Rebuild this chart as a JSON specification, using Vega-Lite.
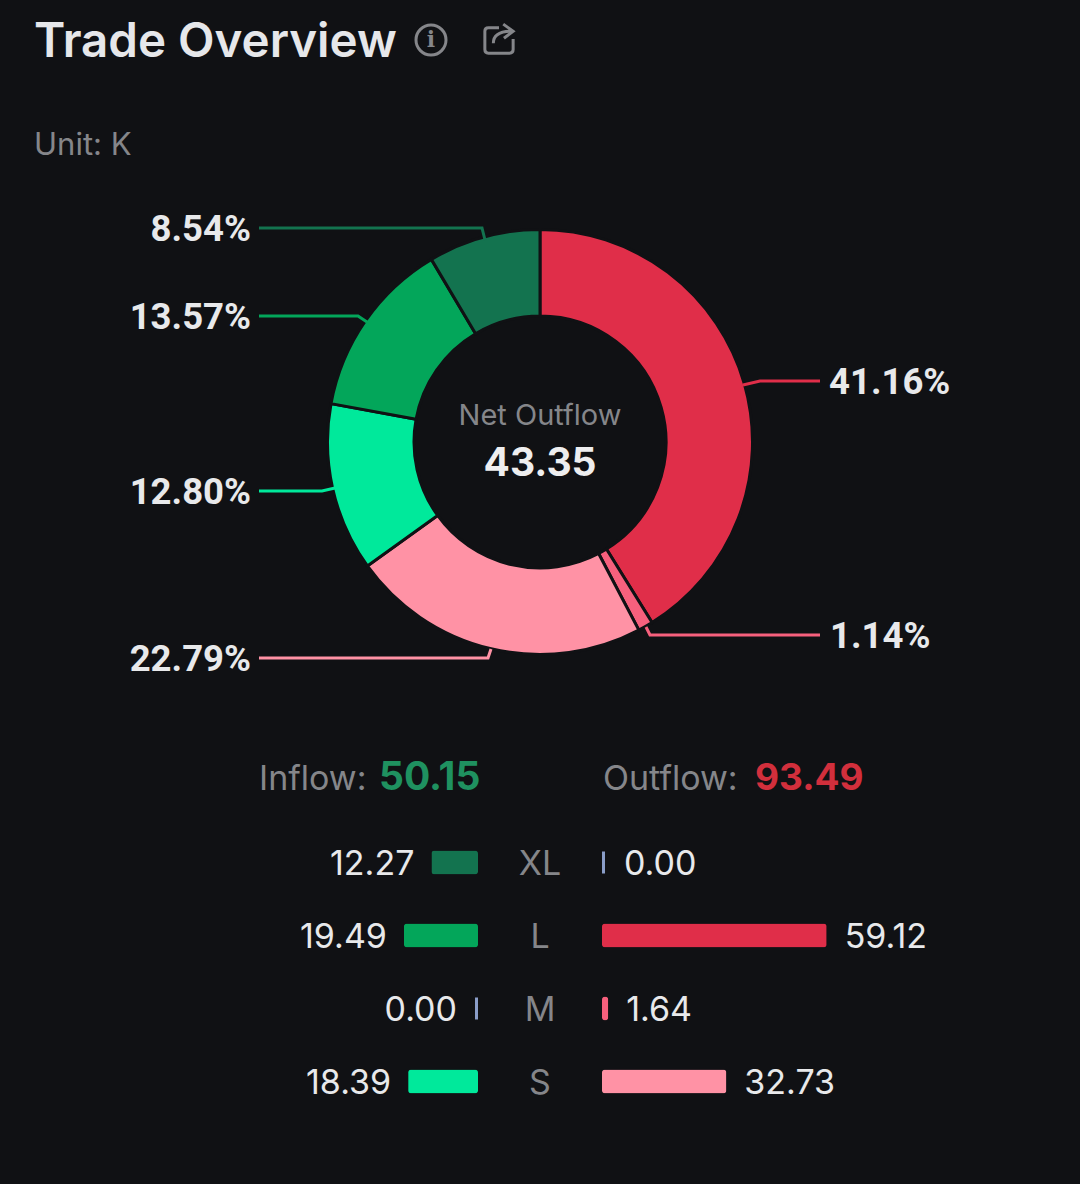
{"$schema":"https://vega.github.io/schema/vega-lite/v6.json","background":"#101114","padding":0,"spacing":0,"config":{"view":{"stroke":null},"axis":{"disable":true},"font":"Inter","concat":{"spacing":0}},"datasets":{"slices":[{"segment":"out L","share":41.16,"rank":1,"label":"41.16%"},{"segment":"out M","share":1.14,"rank":2,"label":"1.14%"},{"segment":"out S","share":22.79,"rank":3,"label":"22.79%"},{"segment":"in S","share":12.8,"rank":4,"label":"12.80%"},{"segment":"in L","share":13.57,"rank":5,"label":"13.57%"},{"segment":"in XL","share":8.54,"rank":6,"label":"8.54%"}],"callouts":[{"segment":"in XL","step":1,"cx":-281,"cy":214},{"segment":"in XL","step":2,"cx":-58,"cy":214},{"segment":"in XL","step":3,"cx":-55,"cy":202},{"segment":"in L","step":1,"cx":-281,"cy":126},{"segment":"in L","step":2,"cx":-182,"cy":126},{"segment":"in L","step":3,"cx":-173,"cy":120},{"segment":"in S","step":1,"cx":-281,"cy":-49},{"segment":"in S","step":2,"cx":-218,"cy":-49},{"segment":"in S","step":3,"cx":-205,"cy":-46},{"segment":"out S","step":1,"cx":-281,"cy":-216},{"segment":"out S","step":2,"cx":-52,"cy":-216},{"segment":"out S","step":3,"cx":-49,"cy":-207},{"segment":"out L","step":1,"cx":280,"cy":61},{"segment":"out L","step":2,"cx":220,"cy":61},{"segment":"out L","step":3,"cx":203,"cy":57},{"segment":"out M","step":1,"cx":280,"cy":-193},{"segment":"out M","step":2,"cx":110,"cy":-193},{"segment":"out M","step":3,"cx":106,"cy":-185}],"inflow":[{"size":"XL","segment":"in XL","value":12.27},{"size":"L","segment":"in L","value":19.49},{"size":"M","segment":"in M","value":0},{"size":"S","segment":"in S","value":18.39}],"outflow":[{"size":"XL","segment":"out XL","value":0},{"size":"L","segment":"out L","value":59.12},{"size":"M","segment":"out M","value":1.64},{"size":"S","segment":"out S","value":32.73}]},"vconcat":[{"width":1080,"height":826,"layer":[{"data":{"name":"slices"},"mark":{"type":"arc","outerRadius":212.5,"innerRadius":126,"stroke":"#101114","strokeWidth":3},"encoding":{"x":{"datum":0,"type":"quantitative","scale":{"domain":[-540,540]}},"y":{"datum":0,"type":"quantitative","scale":{"domain":[-384,442]}},"theta":{"field":"share","type":"quantitative","stack":true,"scale":{"domain":[0,100]}},"order":{"field":"rank"},"color":{"field":"segment","scale":{"domain":["in XL","in L","in S","out L","out M","out S"],"range":["#13734f","#03a65a","#00e99b","#e02e49","#f7607d","#ff92a5"]},"legend":null}}},{"data":{"name":"callouts"},"mark":{"type":"line","strokeWidth":3,"interpolate":"linear"},"encoding":{"x":{"field":"cx","type":"quantitative","scale":{"domain":[-540,540]}},"y":{"field":"cy","type":"quantitative","scale":{"domain":[-384,442]}},"detail":{"field":"segment"},"order":{"field":"step"},"color":{"field":"segment","legend":null}}},{"data":{"name":"slices"},"transform":[{"filter":"datum.rank==6"}],"mark":{"type":"text","font":"Roboto","fontWeight":700,"fontSize":36.5,"align":"right","baseline":"middle","dy":2,"fill":"#e8e9eb"},"encoding":{"text":{"field":"label"},"x":{"datum":-289,"type":"quantitative","scale":{"domain":[-540,540]}},"y":{"datum":214,"type":"quantitative","scale":{"domain":[-384,442]}}}},{"data":{"name":"slices"},"transform":[{"filter":"datum.rank==5"}],"mark":{"type":"text","font":"Roboto","fontWeight":700,"fontSize":36.5,"align":"right","baseline":"middle","dy":2,"fill":"#e8e9eb"},"encoding":{"text":{"field":"label"},"x":{"datum":-289,"type":"quantitative","scale":{"domain":[-540,540]}},"y":{"datum":126,"type":"quantitative","scale":{"domain":[-384,442]}}}},{"data":{"name":"slices"},"transform":[{"filter":"datum.rank==4"}],"mark":{"type":"text","font":"Roboto","fontWeight":700,"fontSize":36.5,"align":"right","baseline":"middle","dy":2,"fill":"#e8e9eb"},"encoding":{"text":{"field":"label"},"x":{"datum":-289,"type":"quantitative","scale":{"domain":[-540,540]}},"y":{"datum":-49,"type":"quantitative","scale":{"domain":[-384,442]}}}},{"data":{"name":"slices"},"transform":[{"filter":"datum.rank==3"}],"mark":{"type":"text","font":"Roboto","fontWeight":700,"fontSize":36.5,"align":"right","baseline":"middle","dy":2,"fill":"#e8e9eb"},"encoding":{"text":{"field":"label"},"x":{"datum":-289,"type":"quantitative","scale":{"domain":[-540,540]}},"y":{"datum":-216,"type":"quantitative","scale":{"domain":[-384,442]}}}},{"data":{"name":"slices"},"transform":[{"filter":"datum.rank==1"}],"mark":{"type":"text","font":"Roboto","fontWeight":700,"fontSize":36.5,"align":"left","baseline":"middle","dy":2,"fill":"#e8e9eb"},"encoding":{"text":{"field":"label"},"x":{"datum":289,"type":"quantitative","scale":{"domain":[-540,540]}},"y":{"datum":61,"type":"quantitative","scale":{"domain":[-384,442]}}}},{"data":{"name":"slices"},"transform":[{"filter":"datum.rank==2"}],"mark":{"type":"text","font":"Roboto","fontWeight":700,"fontSize":36.5,"align":"left","baseline":"middle","dy":2,"fill":"#e8e9eb"},"encoding":{"text":{"field":"label"},"x":{"datum":290,"type":"quantitative","scale":{"domain":[-540,540]}},"y":{"datum":-193,"type":"quantitative","scale":{"domain":[-384,442]}}}},{"data":{"values":[{"label":"Trade Overview"}]},"mark":{"type":"text","fontSize":47.5,"fontWeight":600,"align":"left","baseline":"alphabetic","fill":"#e6e7ea"},"encoding":{"text":{"field":"label"},"x":{"datum":-506,"type":"quantitative","scale":{"domain":[-540,540]}},"y":{"datum":385,"type":"quantitative","scale":{"domain":[-384,442]}}}},{"data":{"values":[{"label":"Unit: K"}]},"mark":{"type":"text","fontSize":31,"align":"left","baseline":"alphabetic","fill":"#85868a"},"encoding":{"text":{"field":"label"},"x":{"datum":-506,"type":"quantitative","scale":{"domain":[-540,540]}},"y":{"datum":287,"type":"quantitative","scale":{"domain":[-384,442]}}}},{"data":{"values":[{"label":"Net Outflow"}]},"mark":{"type":"text","fontSize":29,"align":"center","baseline":"middle","fill":"#85868a"},"encoding":{"text":{"field":"label"},"x":{"datum":0,"type":"quantitative","scale":{"domain":[-540,540]}},"y":{"datum":26,"type":"quantitative","scale":{"domain":[-384,442]}}}},{"data":{"values":[{"label":"43.35"}]},"mark":{"type":"text","fontSize":39,"fontWeight":700,"align":"center","baseline":"middle","fill":"#eeeeef"},"encoding":{"text":{"field":"label"},"x":{"datum":0,"type":"quantitative","scale":{"domain":[-540,540]}},"y":{"datum":-22,"type":"quantitative","scale":{"domain":[-384,442]}}}},{"data":{"values":[{"label":"Inflow:"}]},"mark":{"type":"text","fontSize":34,"align":"left","baseline":"alphabetic","fill":"#85868a"},"encoding":{"text":{"field":"label"},"x":{"datum":-281,"type":"quantitative","scale":{"domain":[-540,540]}},"y":{"datum":-348,"type":"quantitative","scale":{"domain":[-384,442]}}}},{"data":{"values":[{"label":"50.15"}]},"mark":{"type":"text","fontSize":39,"fontWeight":700,"align":"left","baseline":"alphabetic","fill":"#1f9160"},"encoding":{"text":{"field":"label"},"x":{"datum":-161,"type":"quantitative","scale":{"domain":[-540,540]}},"y":{"datum":-348,"type":"quantitative","scale":{"domain":[-384,442]}}}},{"data":{"values":[{"label":"Outflow:"}]},"mark":{"type":"text","fontSize":34,"align":"left","baseline":"alphabetic","fill":"#85868a"},"encoding":{"text":{"field":"label"},"x":{"datum":63,"type":"quantitative","scale":{"domain":[-540,540]}},"y":{"datum":-348,"type":"quantitative","scale":{"domain":[-384,442]}}}},{"data":{"values":[{"label":"93.49"}]},"mark":{"type":"text","fontSize":37,"fontWeight":700,"align":"left","baseline":"alphabetic","fill":"#d22f3c"},"encoding":{"text":{"field":"label"},"x":{"datum":215,"type":"quantitative","scale":{"domain":[-540,540]}},"y":{"datum":-348,"type":"quantitative","scale":{"domain":[-384,442]}}}},{"data":{"values":[{"label":"info"}]},"mark":{"type":"point","shape":"circle","size":900,"filled":false,"stroke":"#85868a","strokeWidth":3,"opacity":1},"encoding":{"x":{"datum":-109,"type":"quantitative","scale":{"domain":[-540,540]}},"y":{"datum":402,"type":"quantitative","scale":{"domain":[-384,442]}}}},{"data":{"values":[{"label":"i"}]},"mark":{"type":"text","font":"DejaVu Serif","fontSize":22,"fontWeight":700,"align":"center","baseline":"middle","fill":"#85868a"},"encoding":{"text":{"field":"label"},"x":{"datum":-109,"type":"quantitative","scale":{"domain":[-540,540]}},"y":{"datum":402,"type":"quantitative","scale":{"domain":[-384,442]}}}},{"data":{"values":[{"label":"share"}]},"mark":{"type":"point","shape":"M0 -0.8 L-0.75 -0.8 Q-1 -0.8 -1 -0.55 L-1 0.75 Q-1 1 -0.75 1 L0.75 1 Q1 1 1 0.75 L1 0 M-0.4 0.3 Q-0.4 -0.55 0.9 -0.55 M0.3 -1.05 L1 -0.55 L0.35 -0.05","size":800,"filled":false,"stroke":"#85868a","strokeWidth":3,"opacity":1},"encoding":{"x":{"datum":-41,"type":"quantitative","scale":{"domain":[-540,540]}},"y":{"datum":403,"type":"quantitative","scale":{"domain":[-384,442]}}}}]},{"spacing":0,"hconcat":[{"width":478,"height":358,"data":{"name":"inflow"},"encoding":{"y":{"field":"size","type":"nominal","sort":["XL","L","M","S"],"scale":{"type":"band","domain":["XL","L","M","S"],"paddingInner":0,"paddingOuter":0.452,"align":0}}},"layer":[{"transform":[{"filter":"datum.value>0"}],"mark":{"type":"bar","height":24,"cornerRadius":3},"encoding":{"x":{"field":"value","type":"quantitative","scale":{"domain":[0,125.8],"reverse":true}},"color":{"field":"segment","legend":null}}},{"transform":[{"filter":"datum.value==0"}],"mark":{"type":"tick","size":22,"thickness":3,"xOffset":-1.5,"color":"#8a9dc8","opacity":1},"encoding":{"x":{"field":"value","type":"quantitative","scale":{"domain":[0,125.8],"reverse":true}}}},{"transform":[{"filter":"datum.value>0"}],"mark":{"type":"text","fontSize":34,"align":"right","baseline":"middle","dx":-17,"dy":2,"fill":"#e8e9eb"},"encoding":{"x":{"field":"value","type":"quantitative","scale":{"domain":[0,125.8],"reverse":true}},"text":{"field":"value","format":".2f"}}},{"transform":[{"filter":"datum.value==0"}],"mark":{"type":"text","fontSize":34,"align":"right","baseline":"middle","dx":-21,"dy":2,"fill":"#e8e9eb"},"encoding":{"x":{"field":"value","type":"quantitative","scale":{"domain":[0,125.8],"reverse":true}},"text":{"field":"value","format":".2f"}}}]},{"width":124,"height":358,"data":{"name":"inflow"},"mark":{"type":"text","fontSize":34,"align":"center","baseline":"middle","dy":2,"fill":"#85868a"},"encoding":{"y":{"field":"size","type":"nominal","sort":["XL","L","M","S"],"scale":{"type":"band","domain":["XL","L","M","S"],"paddingInner":0,"paddingOuter":0.452,"align":0}},"text":{"field":"size"}}},{"width":478,"height":358,"data":{"name":"outflow"},"encoding":{"y":{"field":"size","type":"nominal","sort":["XL","L","M","S"],"scale":{"type":"band","domain":["XL","L","M","S"],"paddingInner":0,"paddingOuter":0.452,"align":0}}},"layer":[{"transform":[{"filter":"datum.value>0"}],"mark":{"type":"bar","height":24,"cornerRadius":3},"encoding":{"x":{"field":"value","type":"quantitative","scale":{"domain":[0,125.8]}},"color":{"field":"segment","legend":null}}},{"transform":[{"filter":"datum.value==0"}],"mark":{"type":"tick","size":22,"thickness":3,"xOffset":1.5,"color":"#8a9dc8","opacity":1},"encoding":{"x":{"field":"value","type":"quantitative","scale":{"domain":[0,125.8]}}}},{"transform":[{"filter":"datum.value>0"}],"mark":{"type":"text","fontSize":34,"align":"left","baseline":"middle","dx":18,"dy":2,"fill":"#e8e9eb"},"encoding":{"x":{"field":"value","type":"quantitative","scale":{"domain":[0,125.8]}},"text":{"field":"value","format":".2f"}}},{"transform":[{"filter":"datum.value==0"}],"mark":{"type":"text","fontSize":34,"align":"left","baseline":"middle","dx":22,"dy":2,"fill":"#e8e9eb"},"encoding":{"x":{"field":"value","type":"quantitative","scale":{"domain":[0,125.8]}},"text":{"field":"value","format":".2f"}}}]}]}]}
